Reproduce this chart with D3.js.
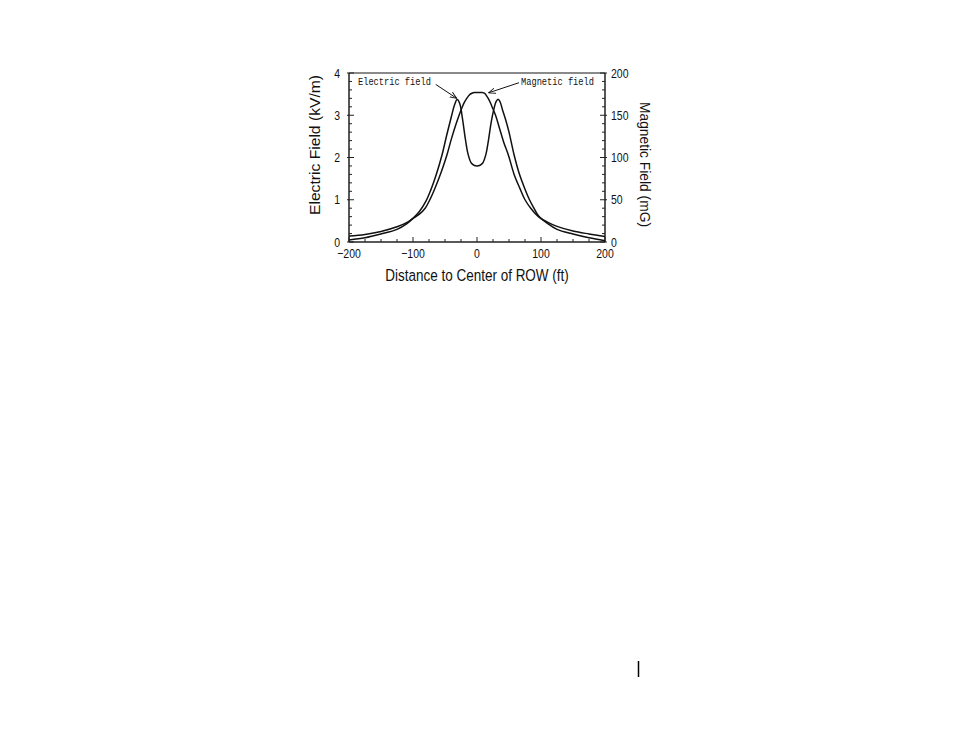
<!DOCTYPE html>
<html>
<head>
<meta charset="utf-8">
<script src="https://cdn.jsdelivr.net/npm/d3@7"></script>
<style>
  html, body { margin: 0; padding: 0; background: #ffffff; }
  svg { display: block; }
  text { fill: #111; }
</style>
</head>
<body>
<svg id="chart" width="954" height="737"></svg>
<script>
// ---------- data ----------
const electricX = [-200, -175, -150, -125, -110, -100, -90, -80, -72, -64, -55, -47, -40, -35, -31, -27, -23, -18, -14, -9, -4, 0, 4, 9, 14, 18, 22, 26, 30, 33, 36, 40, 45, 50, 58, 66, 75, 82, 89, 96, 110, 125, 150, 175, 200];
const electricKV = [0.05, 0.10, 0.19, 0.30, 0.43, 0.56, 0.72, 0.96, 1.24, 1.58, 2.04, 2.55, 2.97, 3.25, 3.37, 3.28, 2.95, 2.42, 2.08, 1.87, 1.81, 1.80, 1.81, 1.87, 2.08, 2.42, 2.82, 3.12, 3.33, 3.38, 3.32, 3.12, 2.88, 2.60, 2.06, 1.62, 1.25, 1.00, 0.80, 0.62, 0.44, 0.30, 0.19, 0.10, 0.03];

const magneticX = [-200, -175, -150, -125, -110, -100, -90, -81, -73, -66, -56, -47, -40, -33, -28, -24, -20, -16, -12, -8, -4, 0, 4, 8, 12, 15, 19, 23, 29, 35, 42, 49, 58, 67, 75, 84, 96, 110, 125, 150, 175, 200];
const magneticMG = [7, 9, 12.5, 18, 23, 28, 33, 40, 51, 63, 82.5, 103, 122, 139, 150, 158, 165, 170, 174, 176, 177, 177, 177, 177, 176, 173, 168, 161, 150, 135, 117.5, 103, 80, 63.5, 50, 40, 30, 23.5, 18.5, 13, 9.5, 6.5];

const xTicks = [-200, -100, 0, 100, 200];
const xTickLabels = ["\u2212200", "\u2212100", "0", "100", "200"];
const leftTicks = [0, 1, 2, 3, 4];
const rightTicks = [0, 50, 100, 150, 200];

const xTitle = "Distance to Center of ROW (ft)";
const leftTitle = "Electric Field (kV/m)";
const rightTitle = "Magnetic Field (mG)";

// annotations (data coordinates: ft, kV/m)
const annoLabels = ["Electric field", "Magnetic field"];
const annoText = [[-186, 3.72], [68.75, 3.72]];
const annoFrom = [[-64.5, 3.73], [65.6, 3.77]];
const annoTo = [[-31.7, 3.40], [18, 3.53]];

// ---------- layout ----------
const SANS = "'Liberation Sans', Arial, Helvetica, sans-serif";
const MONO = "'Liberation Mono', 'DejaVu Sans Mono', monospace";
const svg = d3.select("#chart");
const L = 349, R = 605, T = 73, B = 242;
const VS = 1.22; // vertical stretch of the scanned text

const x = d3.scaleLinear().domain([-200, 200]).range([L, R]);
const yL = d3.scaleLinear().domain([0, 4]).range([B, T]);
const yR = d3.scaleLinear().domain([0, 200]).range([B, T]);

// frame
svg.append("line").attr("x1", L).attr("x2", R).attr("y1", T).attr("y2", T)
  .attr("stroke", "#8a8a8a").attr("stroke-width", 2);
svg.append("line").attr("x1", L).attr("x2", R).attr("y1", B).attr("y2", B)
  .attr("stroke", "#222").attr("stroke-width", 1.4);
svg.append("line").attr("x1", L).attr("x2", L).attr("y1", T).attr("y2", B)
  .attr("stroke", "#111").attr("stroke-width", 1.4);
svg.append("line").attr("x1", R).attr("x2", R).attr("y1", T).attr("y2", B)
  .attr("stroke", "#111").attr("stroke-width", 1.4);

// ticks (inward)
const g = svg.append("g").attr("stroke", "#222").attr("stroke-width", 1);
d3.range(-200, 201, 25).forEach(v => {
  const len = (v % 100 === 0) ? 5 : 3;
  g.append("line").attr("x1", x(v)).attr("x2", x(v)).attr("y1", B).attr("y2", B - len);
});
d3.range(0, 4.01, 0.2).forEach(v => {
  const major = Math.abs(v - Math.round(v)) < 1e-6;
  g.append("line").attr("x1", L - (major ? 2 : 0)).attr("x2", L + (major ? 5 : 3)).attr("y1", yL(v)).attr("y2", yL(v));
});
d3.range(0, 201, 10).forEach(v => {
  const major = v % 50 === 0;
  g.append("line").attr("x1", R + (major ? 2 : 0)).attr("x2", R - (major ? 5 : 3)).attr("y1", yR(v)).attr("y2", yR(v));
});

// helper: horizontally-written text with vertical stretch
function htext(px, py, str, size, anchor, family) {
  return svg.append("text")
    .attr("transform", `translate(${px},${py}) scale(1,${VS})`)
    .attr("text-anchor", anchor)
    .style("font-family", family || SANS)
    .style("font-size", size + "px")
    .text(str);
}

// tick labels
const tickFont = 10.5;
xTicks.forEach((d, i) => htext(x(d), B + 16, xTickLabels[i], tickFont, "middle"));
leftTicks.forEach(d => htext(L - 9, yL(d) + 4.5, d, tickFont, "end"));
rightTicks.forEach(d => htext(R + 6, yR(d) + 4.5, d, tickFont, "start"));

// titles
htext((L + R) / 2, 281, xTitle, 13.5, "middle");
svg.append("text").attr("transform", `translate(319.5,145) rotate(-90)`)
  .attr("text-anchor", "middle")
  .style("font-family", SANS).style("font-size", "14px")
  .attr("textLength", 140).attr("lengthAdjust", "spacingAndGlyphs")
  .text(leftTitle);
svg.append("text").attr("transform", `translate(639.5,164.5) rotate(90)`)
  .attr("text-anchor", "middle")
  .style("font-family", SANS).style("font-size", "14px")
  .attr("textLength", 125).attr("lengthAdjust", "spacingAndGlyphs")
  .text(rightTitle);

// curves
const lineE = d3.line().x((d, i) => x(electricX[i])).y(d => yL(d)).curve(d3.curveCatmullRom.alpha(0.5));
const lineB = d3.line().x((d, i) => x(magneticX[i])).y(d => yR(d)).curve(d3.curveCatmullRom.alpha(0.5));
svg.append("path").datum(electricKV).attr("d", lineE)
  .attr("fill", "none").attr("stroke", "#111").attr("stroke-width", 1.5);
svg.append("path").datum(magneticMG).attr("d", lineB)
  .attr("fill", "none").attr("stroke", "#111").attr("stroke-width", 1.5);

// annotations
svg.append("defs").append("marker").attr("id", "arr")
  .attr("viewBox", "0 0 10 10").attr("refX", 10).attr("refY", 5)
  .attr("markerWidth", 7).attr("markerHeight", 7).attr("orient", "auto")
  .attr("markerUnits", "userSpaceOnUse")
  .append("path").attr("d", "M0,1 L10,5 L0,9").attr("fill", "none")
  .attr("stroke", "#111").attr("stroke-width", 1.3);

annoLabels.forEach((lab, i) => {
  htext(x(annoText[i][0]), yL(annoText[i][1]), lab, 8.7, "start", MONO);
  svg.append("line")
    .attr("x1", x(annoFrom[i][0])).attr("y1", yL(annoFrom[i][1]))
    .attr("x2", x(annoTo[i][0])).attr("y2", yL(annoTo[i][1]))
    .attr("stroke", "#111").attr("stroke-width", 1)
    .attr("marker-end", "url(#arr)");
});

// small slide mark
svg.append("line").attr("x1", 638.5).attr("x2", 638.5).attr("y1", 661).attr("y2", 677)
  .attr("stroke", "#000").attr("stroke-width", 1.5);
</script>
</body>
</html>
